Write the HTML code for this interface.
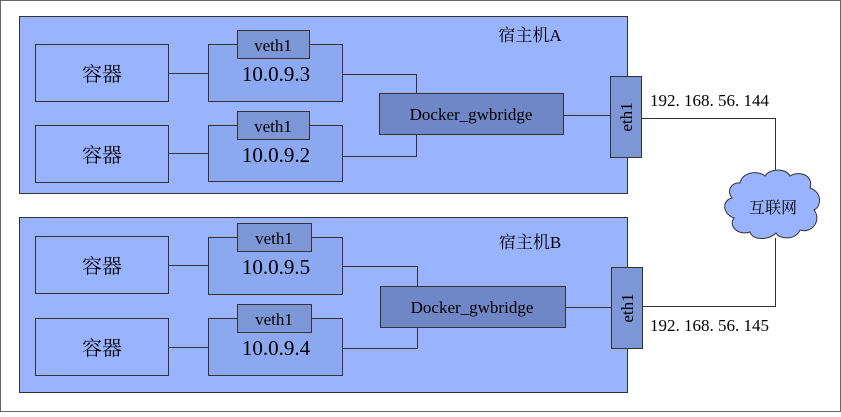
<!DOCTYPE html>
<html><head><meta charset="utf-8"><style>body{margin:0;background:#fff}svg text{font-family:"Liberation Serif","Noto Serif CJK SC",serif}</style></head><body>
<svg width="841" height="412" xmlns="http://www.w3.org/2000/svg">
<rect x="0.5" y="0.5" width="840" height="411" fill="#fff" stroke="#666"/>
<g stroke="#333" stroke-width="1">
<rect x="19.5" y="16.5" width="608" height="177" fill="#99b3fe"/>
<rect x="35.5" y="44.5" width="133" height="57" fill="#99b3fe"/>
<rect x="35.5" y="125.5" width="133" height="57" fill="#99b3fe"/>
<rect x="208.5" y="44.5" width="134" height="57" fill="#8ba8f0"/>
<rect x="208.5" y="125.5" width="134" height="56" fill="#8ba8f0"/>
<rect x="237.5" y="30.5" width="72" height="28" fill="#7d96d6"/>
<rect x="237.5" y="111.5" width="72" height="28" fill="#7d96d6"/>
<rect x="379.5" y="93.5" width="184" height="41" fill="#6f87c6"/>
<rect x="610.5" y="76.5" width="31" height="81" fill="#7d96d6"/>
<polyline points="168,73.5 208,73.5" fill="none"/>
<polyline points="168,153.5 208,153.5" fill="none"/>
<polyline points="342,74.5 416.5,74.5 416.5,93" fill="none"/>
<polyline points="342,156.5 416.5,156.5 416.5,134" fill="none"/>
<polyline points="563,115.5 610,115.5" fill="none"/>
<polyline points="641,118.5 775.5,118.5 775.5,172" fill="none"/>
<rect x="19.5" y="217.5" width="608" height="175" fill="#99b3fe"/>
<rect x="35.5" y="236.5" width="133" height="57" fill="#99b3fe"/>
<rect x="35.5" y="318.5" width="133" height="57" fill="#99b3fe"/>
<rect x="208.5" y="237.5" width="134" height="57" fill="#8ba8f0"/>
<rect x="208.5" y="318.5" width="134" height="57" fill="#8ba8f0"/>
<rect x="237.5" y="223.5" width="74" height="28" fill="#7d96d6"/>
<rect x="237.5" y="304.5" width="74" height="28" fill="#7d96d6"/>
<rect x="380.5" y="286.5" width="185" height="41" fill="#6f87c6"/>
<rect x="611.5" y="267.5" width="31" height="81" fill="#7d96d6"/>
<polyline points="168,265.5 208,265.5" fill="none"/>
<polyline points="168,347.5 208,347.5" fill="none"/>
<polyline points="342,266.5 417.5,266.5 417.5,286" fill="none"/>
<polyline points="342,348.5 417.5,348.5 417.5,327" fill="none"/>
<polyline points="565,307.5 611,307.5" fill="none"/>
<polyline points="642,306.5 775.5,306.5 775.5,238" fill="none"/>
<path d="M740,183 C742,172 758,170 765,176 C770,168 786,168 790,176 C800,170 814,176 810,188 C822,192 822,206 814,210 C822,220 812,234 800,230 C796,240 780,240 776,233 C768,241 752,240 750,232 C738,236 728,226 734,218 C722,214 722,200 732,198 C726,190 732,182 740,183 Z" fill="#99b3fe"/>
</g>
<g fill="#000" font-size="20" text-anchor="middle">
<text x="102" y="81">容器</text>
<text x="102" y="162">容器</text>
<text x="102" y="273">容器</text>
<text x="102" y="355">容器</text>
<text x="273" y="51" font-size="17">veth1</text>
<text x="273" y="132" font-size="17">veth1</text>
<text x="274" y="244" font-size="17">veth1</text>
<text x="274" y="325" font-size="17">veth1</text>
<text x="276" y="81" font-size="21">10.0.9.3</text>
<text x="276" y="162" font-size="21">10.0.9.2</text>
<text x="276" y="274" font-size="21">10.0.9.5</text>
<text x="276" y="355" font-size="21">10.0.9.4</text>
<text x="471" y="120" font-size="17">Docker_gwbridge</text>
<text x="472" y="313" font-size="17">Docker_gwbridge</text>
<text x="530" y="41" font-size="17">宿主机A</text>
<text x="530" y="248" font-size="17">宿主机B</text>
<text x="773" y="213" font-size="16">互联网</text>
<text x="650" y="106" font-size="17" text-anchor="start">192. 168. 56. 144</text>
<text x="650" y="331" font-size="17" text-anchor="start">192. 168. 56. 145</text>
<text transform="translate(632,117) rotate(-90)" font-size="17">eth1</text>
<text transform="translate(633,308) rotate(-90)" font-size="17">eth1</text>
</g>
</svg>
</body></html>
